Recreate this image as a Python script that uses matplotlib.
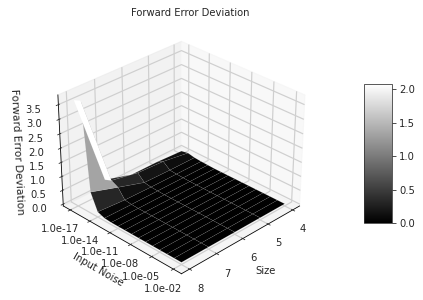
import numpy as np
import matplotlib
matplotlib.use("Agg")
import matplotlib.pyplot as plt

sizes = [4, 5, 6, 7, 8]
noise_exp = list(range(-17, -1))
noise_ticks = [-17, -14, -11, -8, -5, -2]
noise_labels = ['1.0e-17', '1.0e-14', '1.0e-11', '1.0e-08', '1.0e-05', '1.0e-02']
dev_size4 = [0.05, 0.10, 0.05, 0.03, 0.02, 0.01, 0.01, 0.01, 0.01, 0.01, 0.01, 0.01, 0.01, 0.01, 0.01, 0.01]
dev_size5 = [0.10, 0.25, 0.05, 0.03, 0.02, 0.01, 0.01, 0.01, 0.01, 0.01, 0.01, 0.01, 0.01, 0.01, 0.01, 0.01]
dev_size6 = [0.10, 0.30, 0.07, 0.03, 0.02, 0.01, 0.01, 0.01, 0.01, 0.01, 0.01, 0.01, 0.01, 0.01, 0.01, 0.01]
dev_size7 = [0.40, 0.50, 0.38, 0.05, 0.02, 0.01, 0.01, 0.01, 0.01, 0.01, 0.01, 0.01, 0.01, 0.01, 0.01, 0.01]
dev_size8 = [3.65, 3.75, 0.70, 0.12, 0.03, 0.01, 0.01, 0.01, 0.01, 0.01, 0.01, 0.01, 0.01, 0.01, 0.01, 0.01]

Z = np.array([dev_size4, dev_size5, dev_size6, dev_size7, dev_size8])
X, Y = np.meshgrid(sizes, noise_exp, indexing='ij')

plt.rcParams['grid.linewidth'] = 1.2
plt.rcParams['grid.color'] = '#cfcfcf'

DPI = 72
fig = plt.figure(figsize=(423 / DPI, 300 / DPI), dpi=DPI)
ax = fig.add_axes([-0.022, 0.04, 0.885, 0.885], projection='3d')
surf = ax.plot_surface(X, Y, Z, rstride=1, cstride=1, cmap='gray', vmin=0,
                       linewidth=0.5, antialiased=True, edgecolor='#ffffff22')
ax.view_init(elev=30, azim=45)
ax.set_xticks(sizes)
ax.set_yticks(noise_ticks)
ax.set_yticklabels(noise_labels)
ax.set_zticks(np.arange(0, 4, 0.5))
ax.tick_params(labelsize=10, colors='#262626')
ax.tick_params(axis='z', pad=6)
ax.set_xlabel('Size', fontsize=10, color='#262626', labelpad=4)
ax.set_ylabel('Input Noise', fontsize=10, color='#262626', labelpad=3)
ax.set_zlabel('Forward Error Deviation', fontsize=10.5, color='#262626', labelpad=4)
fig.text(190 / 423, 1 - 12.5 / 300, 'Forward Error Deviation', fontsize=10,
         ha='center', va='center', color='#262626')
cax = fig.add_axes([364 / 423, 1 - 223 / 300, 28 / 423, 139 / 300])
cb = fig.colorbar(surf, cax=cax)
cb.ax.tick_params(labelsize=10, colors='#262626')
cb.outline.set_edgecolor('#333333')
fig.savefig('out.png', dpi=DPI)
